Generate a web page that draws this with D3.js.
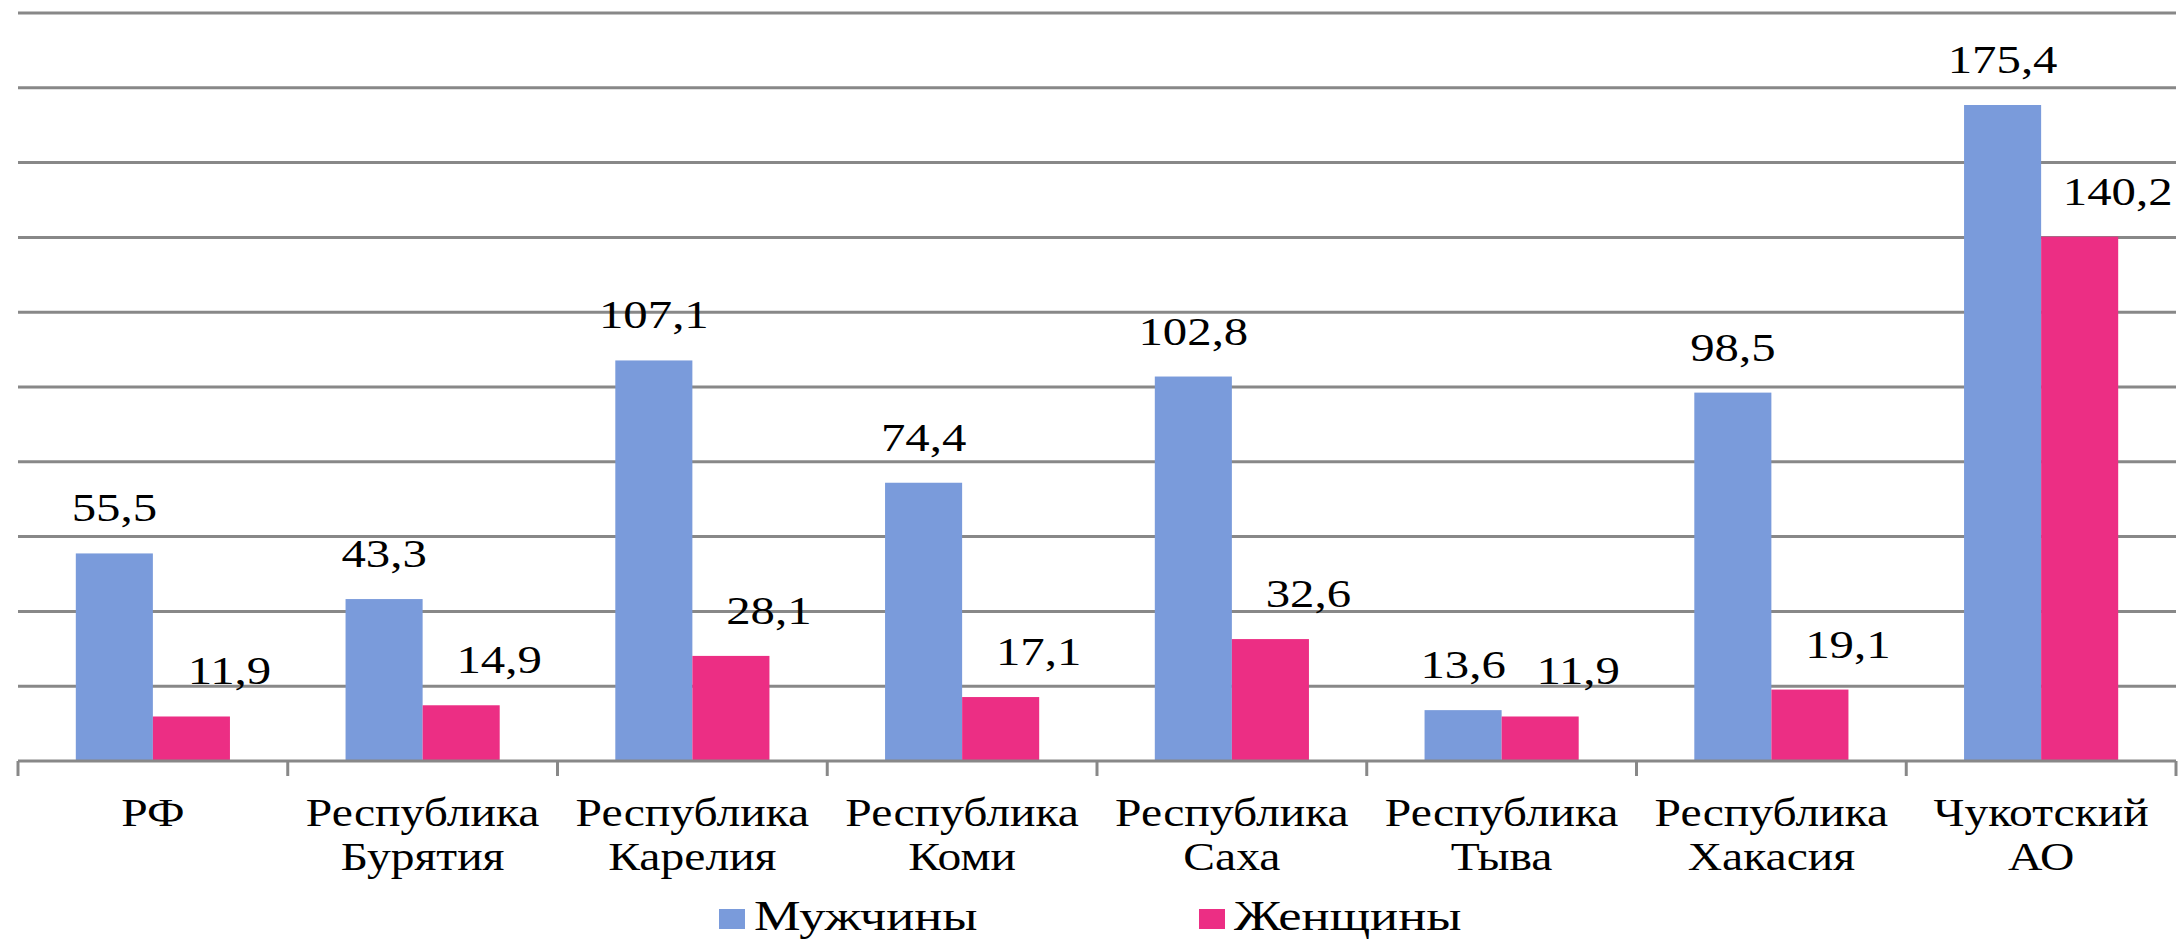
<!DOCTYPE html>
<html>
<head>
<meta charset="utf-8">
<script src="https://cdn.jsdelivr.net/npm/d3@7"></script>
<style>
  body { margin: 0; background: #fff; }
  text { font-family: "Liberation Serif", "DejaVu Serif", serif; fill: #000; }
</style>
</head>
<body>
<div id="chart"></div>
<script>
// Categories (two-line labels split by \n)
const categories = [
  'РФ',
  'Республика\nБурятия',
  'Республика\nКарелия',
  'Республика\nКоми',
  'Республика\nСаха',
  'Республика\nТыва',
  'Республика\nХакасия',
  'Чукотский\nАО'
];

// Series names and values
const seriesNames = ['Мужчины', 'Женщины'];
const menValues = [55.5, 43.3, 107.1, 74.4, 102.8, 13.6, 98.5, 175.4];
const womenValues = [11.9, 14.9, 28.1, 17.1, 32.6, 11.9, 19.1, 140.2];

// Y axis ticks (gridlines)
const yTicks = [0, 20, 40, 60, 80, 100, 120, 140, 160, 180, 200];

const colors = ['#7A9BDB', '#EC2E84'];
const gridColor = '#888888';
const stretch = 1.22; // text in the picture is horizontally stretched

const chartWidth = 2183;
const chartHeight = 940;
const plotLeft = 18;
const plotRight = 2176;
const plotTop = 13;
const plotBottom = 761;

const svg = d3.select('#chart')
  .append('svg')
  .attr('width', chartWidth)
  .attr('height', chartHeight);

const x = d3.scaleBand()
  .domain(categories)
  .range([plotLeft, plotRight])
  .padding(0);

const xInner = d3.scaleBand()
  .domain(seriesNames)
  .range([0, x.bandwidth()])
  .paddingInner(0)
  .paddingOuter(0.75);

const y = d3.scaleLinear()
  .domain([0, 200])
  .range([plotBottom, plotTop]);

// Gridlines
svg.append('g')
  .selectAll('line')
  .data(yTicks.slice(1))
  .join('line')
  .attr('x1', plotLeft)
  .attr('x2', plotRight)
  .attr('y1', d => y(d))
  .attr('y2', d => y(d))
  .attr('stroke', gridColor)
  .attr('stroke-width', 3);

// Rows for the bars
const rows = categories.map((c, i) => ({
  category: c,
  values: [
    { series: seriesNames[0], value: menValues[i], idx: 0 },
    { series: seriesNames[1], value: womenValues[i], idx: 1 }
  ]
}));

const groups = svg.append('g')
  .selectAll('g')
  .data(rows)
  .join('g')
  .attr('transform', d => `translate(${x(d.category)},0)`);

groups.selectAll('rect')
  .data(d => d.values)
  .join('rect')
  .attr('x', d => xInner(d.series))
  .attr('y', d => y(d.value))
  .attr('width', xInner.bandwidth())
  .attr('height', d => y(0) - y(d.value))
  .attr('fill', d => colors[d.idx]);

// Data labels: pink series labels sit to the right of the bar
groups.selectAll('g.label')
  .data(d => d.values)
  .join('g')
  .attr('class', 'label')
  .attr('transform', d => {
    const cx = xInner(d.series) + xInner.bandwidth() / 2 + (d.idx === 1 ? 38 : 0);
    return `translate(${cx},${y(d.value) - 32}) scale(${stretch},1)`;
  })
  .append('text')
  .attr('text-anchor', 'middle')
  .attr('font-size', 40)
  .text(d => String(d.value).replace('.', ','));

// X axis line and ticks
const axis = svg.append('g').attr('transform', `translate(0,${plotBottom})`);
axis.append('line')
  .attr('x1', plotLeft)
  .attr('x2', plotRight)
  .attr('stroke', gridColor)
  .attr('stroke-width', 3);

const tickPos = categories.map(c => x(c)).concat([plotRight]);
axis.selectAll('line.tick')
  .data(tickPos)
  .join('line')
  .attr('class', 'tick')
  .attr('x1', d => d)
  .attr('x2', d => d)
  .attr('y1', 0)
  .attr('y2', 15)
  .attr('stroke', gridColor)
  .attr('stroke-width', 3);

// Category labels
const catLabels = svg.append('g')
  .selectAll('g')
  .data(categories)
  .join('g')
  .attr('transform', d => `translate(${x(d) + x.bandwidth() / 2},826) scale(${stretch},1)`);

catLabels.append('text')
  .attr('text-anchor', 'middle')
  .attr('font-size', 39)
  .selectAll('tspan')
  .data(d => d.split('\n'))
  .join('tspan')
  .attr('x', 0)
  .attr('dy', (d, i) => i === 0 ? 0 : 44)
  .text(d => d);

// Legend
const legendX = [719, 1199];
const legend = svg.append('g')
  .selectAll('g')
  .data(seriesNames)
  .join('g')
  .attr('transform', (d, i) => `translate(${legendX[i]},0)`);

legend.append('rect')
  .attr('x', 0)
  .attr('y', 909)
  .attr('width', 26)
  .attr('height', 20)
  .attr('fill', (d, i) => colors[i]);

legend.append('g')
  .attr('transform', `translate(35,930) scale(${stretch},1)`)
  .append('text')
  .attr('font-size', 43)
  .text(d => d);
</script>
</body>
</html>
